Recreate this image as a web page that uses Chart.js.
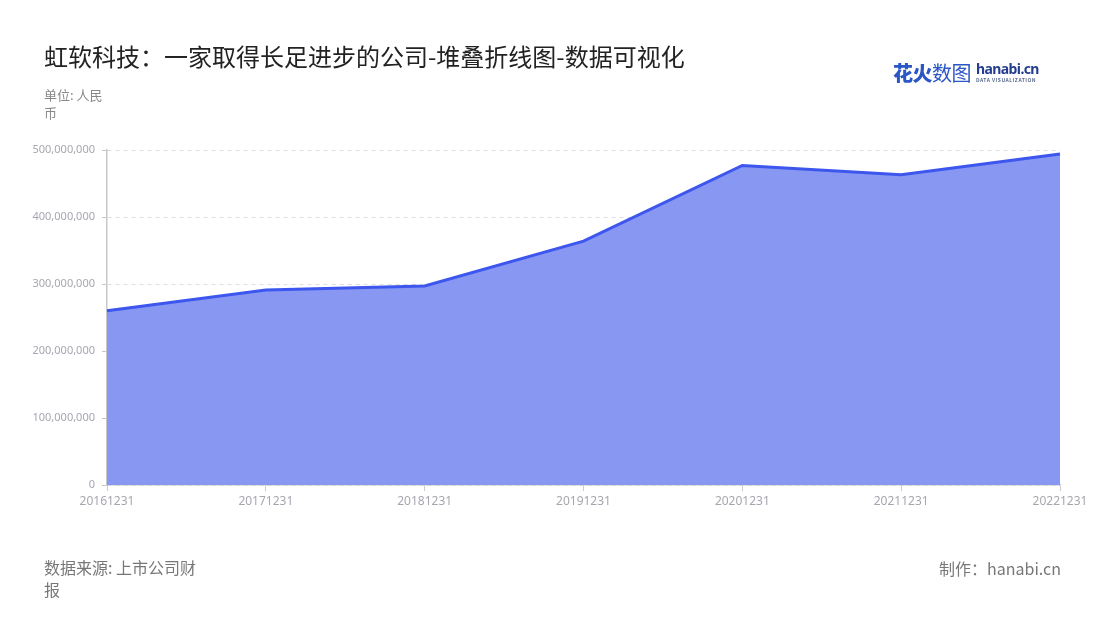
<!DOCTYPE html>
<html>
<head>
<meta charset="utf-8">
<script src="https://cdn.jsdelivr.net/npm/chart.js@4.4.0/dist/chart.umd.min.js"></script>
<style>
  body { margin:0; background:#fff; font-family:"Noto Sans CJK SC","Noto Sans",sans-serif; }
  #wrap { position:relative; width:1100px; height:620px; overflow:hidden; }
  #myChart { position:absolute; left:0; top:0; }
  .txt { position:absolute; white-space:nowrap; }
  #title { left:44px; top:38px; font-size:24px; color:#222; }
  #unit { left:44px; top:86px; font-size:13px; color:#888; line-height:18px; }
  #source { left:44px; top:556px; font-size:16px; color:#777; line-height:22px; }
  #maker { right:39px; top:556px; font-size:16px; color:#777; }
  #logo { left:893px; top:58px; }
  #logo .cn { font-size:20px; color:#2a56c6; letter-spacing:-0.5px; vertical-align:top; }
  #logo .cn b { font-weight:900; }
  #logo .en { display:inline-block; margin-left:5px; margin-top:4px; vertical-align:top; }
  #logo .en b { display:block; font-family:"Noto Sans",sans-serif; font-size:14px; color:#243e8f; line-height:14px; letter-spacing:-0.6px; }
  #logo .en i { display:block; font-style:normal; font-size:5px; color:#5b6b8f; letter-spacing:0.5px; line-height:7px; font-weight:bold; }
</style>
</head>
<body>
<div id="wrap">
  <canvas id="myChart" width="1100" height="620"></canvas>
  <div class="txt" id="title">虹软科技：一家取得长足进步的公司-堆叠折线图-数据可视化</div>
  <div class="txt" id="unit">单位: 人民<br>币</div>
  <div class="txt" id="logo"><span class="cn"><b>花火</b>数图</span><span class="en"><b>hanabi.cn</b><i>DATA VISUALIZATION</i></span></div>
  <div class="txt" id="source">数据来源: 上市公司财<br>报</div>
  <div class="txt" id="maker">制作：hanabi.cn</div>
</div>
<script>
let ctx=document.getElementById("myChart");

const labels = ['20161231','20171231','20181231','20191231','20201231','20211231','20221231'];
const revenue = [260000000,291000000,297000000,364000000,477000000,463000000,494000000];
const yTicks = [0,100000000,200000000,300000000,400000000,500000000];

new Chart(ctx, {
  type: 'line',
  data: {
    labels: labels,
    datasets: [{
      label: '营业收入',
      data: revenue,
      borderColor: '#3d56ee',
      backgroundColor: '#8797f2',
      borderWidth: 3,
      fill: 'origin',
      pointRadius: 0,
      tension: 0
    }]
  },
  options: {
    responsive: false,
    animation: false,
    layout: { padding: { top: 150, right: 40, bottom: 105, left: 0 } },
    plugins: {
      legend: { display: false },
      tooltip: { enabled: false }
    },
    scales: {
      x: {
        offset: false,
        grid: { drawOnChartArea: false, drawTicks: true, tickLength: 6, color: '#cccccc' },
        border: { color: '#c8c8c8', width: 1.5 },
        ticks: { color: '#a6a6b0', font: { size: 12, family: 'Noto Sans' }, maxRotation: 0, autoSkip: false, padding: 3 },
        afterFit: function(s) { s.height = 30; }
      },
      y: {
        min: 0,
        max: 500000000,
        afterBuildTicks: function(s) { s.ticks = yTicks.map(v => ({ value: v })); },
        grid: { color: '#dddddd', tickLength: 5, tickColor: '#c8c8c8', tickBorderDash: [] },
        border: { color: '#c8c8c8', width: 1.5, dash: [4, 4] },
        ticks: {
          color: '#a6a6b0',
          font: { size: 11, family: 'Noto Sans' },
          padding: 7,
          callback: v => v.toLocaleString('en-US')
        },
        afterFit: function(s) { s.width = 107; }
      }
    }
  }
});
</script>
</body>
</html>
